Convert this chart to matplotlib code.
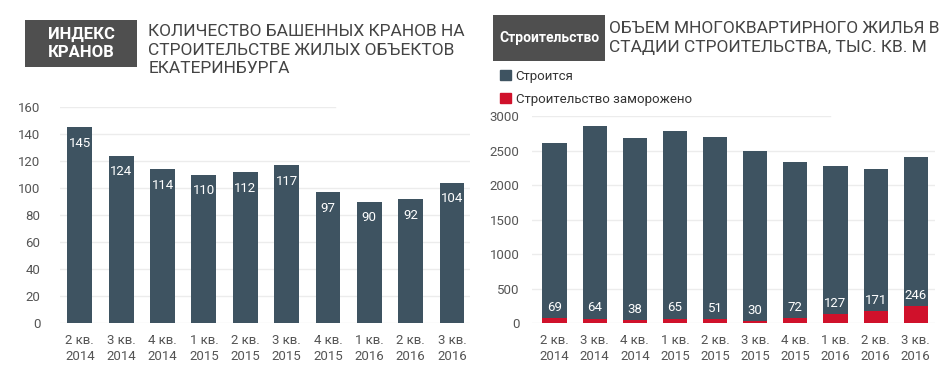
import numpy as np
import matplotlib
matplotlib.use('Agg')
import matplotlib.pyplot as plt
from matplotlib.patches import Patch, Rectangle

plt.rcParams['font.family'] = ['Roboto', 'DejaVu Sans']

quarters = ['2 кв.\n2014', '3 кв.\n2014', '4 кв.\n2014', '1 кв.\n2015', '2 кв.\n2015',
            '3 кв.\n2015', '4 кв.\n2015', '1 кв.\n2016', '2 кв.\n2016', '3 кв.\n2016']
cranes = [145, 124, 114, 110, 112, 117, 97, 90, 92, 104]
frozen = [69, 64, 38, 65, 51, 30, 72, 127, 171, 246]
building = [2545, 2792, 2649, 2714, 2650, 2459, 2258, 2150, 2067, 2166]

dark = '#3e5361'
red = '#d0112b'
grid_c = '#ececec'
text_c = '#555555'

fig = plt.figure(figsize=(9.45, 3.73), dpi=100)

# left chart - cranes
ax1 = fig.add_axes([0.0635, 0.134, 0.434, 0.579])
x = np.arange(len(quarters))
ax1.bar(x, cranes, width=0.6, color=dark, zorder=3)
for i, v in enumerate(cranes):
    ax1.text(i, v - 12, str(v), ha='center', va='center', color='white', fontsize=9.5, zorder=4)
ax1.set_ylim(0, 160)
ax1.set_xlim(-0.48, 9.44)
yt1 = np.arange(0, 161, 20)
for t in yt1[:-1]:
    ax1.axhline(t, color=grid_c, lw=1, zorder=1)
ax1.axhline(160, xmax=0.67, color=grid_c, lw=1, zorder=1)
ax1.set_yticks(yt1)
ax1.set_xticks(x)
ax1.set_xticklabels(quarters, fontsize=9.5, color=text_c, linespacing=1.3)
ax1.tick_params(length=0, labelsize=9.5, labelcolor=text_c)
ax1.tick_params(axis='y', pad=14)
ax1.tick_params(axis='x', pad=8)
for s in ax1.spines.values():
    s.set_visible(False)

# right chart - housing under construction
ax2 = fig.add_axes([0.563, 0.134, 0.426, 0.555])
ax2.bar(x, frozen, width=0.6, color=red, zorder=3)
ax2.bar(x, building, bottom=frozen, width=0.6, color=dark, zorder=3)
for i, v in enumerate(frozen):
    ax2.text(i, v + 60, str(v), ha='center', va='bottom', color='white', fontsize=9.5, zorder=4)
ax2.set_ylim(0, 3000)
ax2.set_xlim(-0.56, 9.47)
yt2 = np.arange(0, 3001, 500)
for t in yt2[:-1]:
    ax2.axhline(t, color=grid_c, lw=1, zorder=1)
ax2.axhline(3000, xmax=0.74, color=grid_c, lw=1, zorder=1)
ax2.set_yticks(yt2)
ax2.set_xticks(x)
ax2.set_xticklabels(quarters, fontsize=9.5, color=text_c, linespacing=1.3)
ax2.tick_params(length=0, labelsize=9.5, labelcolor=text_c)
ax2.tick_params(axis='y', pad=9)
ax2.tick_params(axis='x', pad=8)
for s in ax2.spines.values():
    s.set_visible(False)

handles = [Patch(color=dark, label='Строится'), Patch(color=red, label='Строительство заморожено')]
fig.legend(handles=handles, loc='upper left', bbox_to_anchor=(0.517, 0.845), frameon=False,
           fontsize=9.5, handlelength=0.8, handleheight=0.8, handletextpad=0.35,
           labelspacing=0.75, labelcolor='#333333')

# title boxes
fig.add_artist(Rectangle((0.0265, 0.8204), 0.1185, 0.126, transform=fig.transFigure,
                         fc='#4f4f4f', ec='none'))
fig.text(0.0857, 0.8834, 'ИНДЕКС\nКРАНОВ', ha='center', va='center', color='white',
         fontsize=12, fontweight='bold', linespacing=1.25)
fig.text(0.157, 0.935, 'КОЛИЧЕСТВО БАШЕННЫХ КРАНОВ НА\nСТРОИТЕЛЬСТВЕ ЖИЛЫХ ОБЪЕКТОВ\nЕКАТЕРИНБУРГА',
         ha='left', va='top', color='#444444', fontsize=12.5, linespacing=1.3)

fig.add_artist(Rectangle((0.5217, 0.8365), 0.1185, 0.1233, transform=fig.transFigure,
                         fc='#4f4f4f', ec='none'))
fig.text(0.581, 0.898, 'Строительство', ha='center', va='center', color='white',
         fontsize=10, fontweight='bold')
fig.text(0.644, 0.945, 'ОБЪЕМ МНОГОКВАРТИРНОГО ЖИЛЬЯ В\nСТАДИИ СТРОИТЕЛЬСТВА, ТЫС. КВ. М',
         ha='left', va='top', color='#444444', fontsize=12.5, linespacing=1.4)

fig.savefig('out.png', dpi=100)
